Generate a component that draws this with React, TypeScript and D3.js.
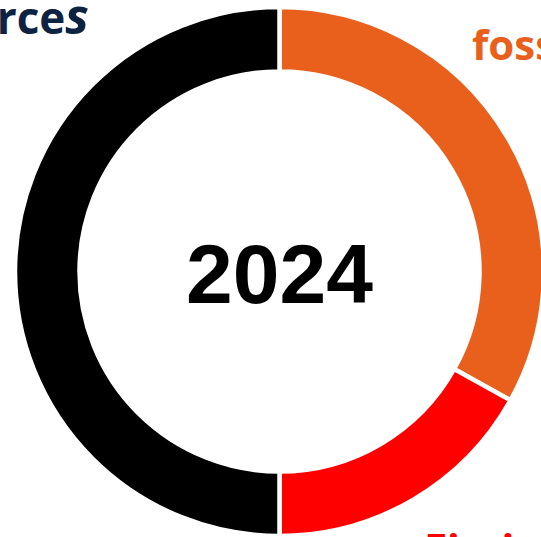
import React, { useEffect, useRef } from "react";
import * as d3 from "d3";

const categories = ["fossil fuels", "Fission", "Non-fossil sources"];
const values = [33.1, 16.9, 50];
const colors = ["#E8601C", "#FF0000", "#000000"];
const centerLabel = "2024";

const width = 541;
const height = 537;

const App = () => {
  const svgRef = useRef<SVGSVGElement>(null);

  useEffect(() => {
    const svg = d3.select(svgRef.current);
    svg.selectAll("*").remove();

    const cx = 279.5;
    const cy = 271.5;
    const outer = 264.5;
    const inner = 200;

    const pie = d3
      .pie<number>()
      .sort(null)
      .value((d) => d);

    const arc = d3
      .arc<d3.PieArcDatum<number>>()
      .innerRadius(inner)
      .outerRadius(outer);

    const g = svg.append("g").attr("transform", `translate(${cx},${cy})`);

    g.selectAll("path")
      .data(pie(values))
      .join("path")
      .attr("d", arc)
      .attr("fill", (_, i) => colors[i])
      .attr("stroke", "#fff")
      .attr("stroke-width", 4.5);

    // center year
    g.append("text")
      .attr("x", 0)
      .attr("y", 31)
      .attr("text-anchor", "middle")
      .style("font-family", "Liberation Sans, Arial, sans-serif")
      .style("font-weight", "700")
      .style("font-size", "84px")
      .attr("fill", "#000")
      .text(centerLabel);

    // outside labels (mostly clipped by the frame)
    const lbl = svg
      .append("text")
      .attr("x", 89)
      .attr("y", 34)
      .attr("text-anchor", "end")
      .style("font-family", "Open Sans, Liberation Sans, sans-serif")
      .style("font-weight", "700")
      .style("font-size", "44px")
      .attr("fill", "#0E2341");
    lbl.append("tspan").text(categories[2].slice(0, -1));
    lbl.append("tspan").style("font-style", "italic").style("font-size", "50px").text("s");

    svg
      .append("text")
      .attr("x", 472)
      .attr("y", 60)
      .style("font-family", "Open Sans, Liberation Sans, sans-serif")
      .style("font-weight", "700")
      .style("font-size", "42px")
      .attr("fill", colors[0])
      .text(categories[0]);

    svg
      .append("text")
      .attr("x", 424)
      .attr("y", 564)
      .style("font-family", "Open Sans, Liberation Sans, sans-serif")
      .style("font-weight", "700")
      .style("font-size", "42px")
      .attr("fill", colors[1])
      .text(categories[1]);
  }, []);

  return (
    <svg
      ref={svgRef}
      width={width}
      height={height}
      style={{ position: "fixed", left: 0, top: 0, background: "#fff" }}
    ></svg>
  );
};

export default App;
